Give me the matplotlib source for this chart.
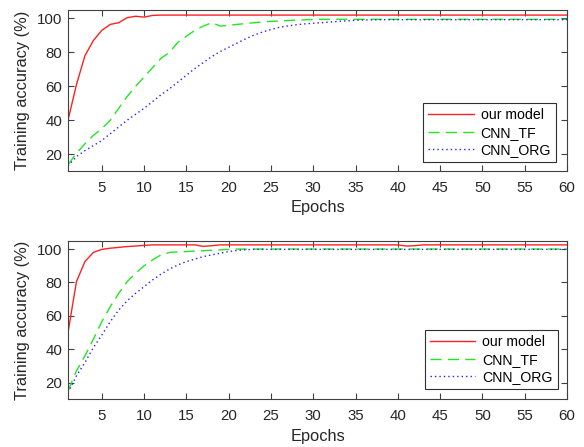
import matplotlib
matplotlib.use("Agg")
import matplotlib.pyplot as plt

plt.rcParams['font.family'] = ['Liberation Sans', 'DejaVu Sans']

epochs = list(range(1, 61))

top_red = [
    40, 61, 78, 87, 93, 96.5, 97.5, 100.5, 101.3, 100.8,
    101.8, 102, 102, 102, 102, 102, 102, 102, 102, 102,
    102, 102, 102, 102, 102, 102, 102, 102, 102, 102,
    102, 102, 102, 102, 102, 102, 102, 102, 102, 102,
    102, 102, 102, 102, 102, 102, 102, 102, 102, 102,
    102, 102, 102, 102, 102, 102, 102, 102, 102, 102]
top_green = [
    13.7, 20.5, 26, 31, 35, 40, 47, 54, 60, 65.5,
    71, 76.5, 80, 86, 89.5, 93, 95.5, 97.5, 95.5, 96,
    96.5, 97, 97.5, 98, 98.3, 98.5, 98.8, 99, 99.2, 99.4,
    99.5, 99.5, 99.5, 99.5, 99.5, 99.5, 99.5, 99.5, 99.5, 99.5,
    99.5, 99.5, 99.5, 99.5, 99.5, 99.5, 99.5, 99.5, 99.5, 99.5,
    99.5, 99.5, 99.5, 99.5, 99.5, 99.5, 99.5, 99.5, 99.5, 99.5]
top_blue = [
    13, 18.5, 22, 25, 28, 32, 36, 40, 43.5, 47,
    51, 55, 58.5, 62.5, 66.5, 70.5, 74, 77.5, 80.5, 83,
    85.5, 88, 90.2, 92, 93.5, 94.8, 95.6, 96.3, 96.8, 97.2,
    97.5, 97.9, 98.3, 98.6, 98.9, 99.1, 99.2, 99.3, 99.3, 99.3,
    99.3, 99.3, 99.3, 99.3, 99.3, 99.3, 99.3, 99.3, 99.3, 99.3,
    99.3, 99.3, 99.3, 99.3, 99.3, 99.3, 99.3, 99.3, 99.3, 99.3]

bot_red = [
    50, 80.5, 92.5, 98, 99.8, 100.5, 101, 101.5, 101.8, 102.2,
    102.5, 102.5, 102.5, 102.5, 102.5, 102.5, 101.6, 102, 102.5, 102.5,
    102.5, 102.5, 102.5, 102.5, 102.5, 102.5, 102.5, 102.5, 102.5, 102.5,
    102.5, 102.5, 102.5, 102.5, 102.5, 102.5, 102.5, 102.5, 102.5, 102.5,
    101.8, 102, 102.5, 102.5, 102.5, 102.5, 102.5, 102.5, 102.5, 102.5,
    102.5, 102.5, 102.5, 102.5, 102.5, 102.5, 102.5, 102.5, 102.5, 102.5]
bot_green = [
    15, 27, 36, 46, 56.5, 65.5, 73.5, 80.5, 85.5, 90,
    93.5, 96.5, 98, 98.3, 98.5, 98.8, 99, 99.3, 99.5, 99.8,
    100, 100, 100, 100, 100, 100, 100, 100, 100, 100,
    100, 100, 100, 100, 100, 100, 100, 100, 100, 100,
    100, 100, 100, 100, 100, 100, 100, 100, 100, 100,
    100, 100, 100, 100, 100, 100, 100, 100, 100, 100]
bot_blue = [
    14, 24, 32, 41, 48.5, 56.5, 63.5, 69, 73.5, 77.5,
    81.5, 85, 88, 90.5, 92.5, 94, 95.5, 96.5, 97.5, 98.5,
    99.2, 99.6, 99.8, 99.8, 99.8, 99.8, 99.8, 99.8, 99.8, 99.8,
    99.8, 99.8, 99.8, 99.8, 99.8, 99.8, 99.8, 99.8, 99.8, 99.8,
    99.8, 99.8, 99.8, 99.8, 99.8, 99.8, 99.8, 99.8, 99.8, 99.8,
    99.8, 99.8, 99.8, 99.8, 99.8, 99.8, 99.8, 99.8, 99.8, 99.8]

labels = ['our model', 'CNN_TF', 'CNN_ORG']
xticks = [5, 10, 15, 20, 25, 30, 35, 40, 45, 50, 55, 60]
yticks = [20, 40, 60, 80, 100]

fig = plt.figure(figsize=(5.84, 4.47), dpi=100)
ax1 = fig.add_axes([68/584, 1-171/447, 499/584, 161/447])
ax2 = fig.add_axes([68/584, 1-399.3/447, 499/584, 158.6/447])

panels = [
    (ax1, top_red, top_green, top_blue, (0.978, 0.054)),
    (ax2, bot_red, bot_green, bot_blue, (0.981, 0.063)),
]
for ax, r, g, b, anchor in panels:
    ax.plot(epochs, r, color='#ff2020', lw=1.0, label=labels[0])
    ax.plot(epochs, g, color='#20e820', lw=1.0, dashes=(8, 4.5), label=labels[1])
    ax.plot(epochs, b, color='#2020ff', lw=1.0, linestyle=(0, (1, 2.2)), label=labels[2])
    ax.set_xlim(1, 60)
    ax.set_ylim(10, 105)
    ax.set_xticks(xticks)
    ax.set_yticks(yticks)
    ax.tick_params(direction='in', top=True, right=True, length=4, width=0.8,
                   colors='#404040', labelcolor='#262626', labelsize=10.8)
    ax.tick_params(axis='x', pad=7)
    ax.tick_params(axis='y', pad=4)
    for s in ax.spines.values():
        s.set_color('#404040')
        s.set_linewidth(0.8)
    ax.set_xlabel('Epochs', fontsize=11.8, color='#262626', labelpad=4)
    ax.set_ylabel('Training accuracy (%)', fontsize=11.8, color='#262626', labelpad=5)
    leg = ax.legend(loc='lower right', bbox_to_anchor=anchor, borderaxespad=0,
                    fontsize=10.2, handlelength=3.2, labelspacing=0.25,
                    borderpad=0.35, handletextpad=0.5, fancybox=False,
                    framealpha=1, edgecolor='#303030')
    leg.get_frame().set_linewidth(0.8)

fig.savefig('out.png', dpi=100)
